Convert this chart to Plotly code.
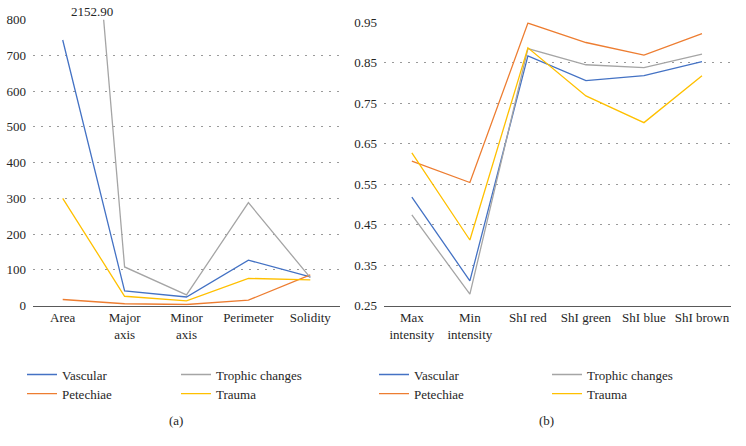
import plotly.graph_objects as go

# ---- data ----
cats_a = ["Area", "Major<br>axis", "Minor<br>axis", "Perimeter", "Solidity"]
vascular_a = [743, 41, 24, 127, 80]
petechiae_a = [17, 5, 3, 15, 86]
trophic_a = [2152.90, 108, 30, 288, 78]
trauma_a = [300, 26, 13, 76, 72]

cats_b = ["Max<br>intensity", "Min<br>intensity", "ShI red", "ShI green", "ShI blue", "ShI brown"]
vascular_b = [0.518, 0.311, 0.867, 0.806, 0.818, 0.853]
petechiae_b = [0.607, 0.554, 0.948, 0.900, 0.869, 0.922]
trophic_b = [0.474, 0.278, 0.885, 0.845, 0.838, 0.871]
trauma_b = [0.627, 0.412, 0.887, 0.768, 0.702, 0.818]

yticks_a = [0, 100, 200, 300, 400, 500, 600, 700, 800]
yticks_b = [0.25, 0.35, 0.45, 0.55, 0.65, 0.75, 0.85, 0.95]

names = ["Vascular", "Petechiae", "Trophic changes", "Trauma"]
colors = ["#4472C4", "#ED7D31", "#A5A5A5", "#FFC000"]

FONT = "Liberation Serif, Times New Roman, DejaVu Serif, serif"
TXT = "#262626"

W, H = 746, 446
Y_OFF, Y_SCALE = 8.1, 0.962  # calibration of vertical placement


def px_x(p):
    return p / W


def px_y(p):
    return 1 - (p - Y_OFF) / (H * Y_SCALE)


fig = go.Figure()

series_a = [vascular_a, petechiae_a, trophic_a, trauma_a]
series_b = [vascular_b, petechiae_b, trophic_b, trauma_b]

# legend placement (pixel text-left x, row centre y) per series
leg_pos_a = [(63, 374), (63, 393), (217, 374), (217, 393)]
leg_pos_b = [(415, 374), (415, 393), (588, 374), (588, 393)]

legfont = dict(family=FONT, size=13, color=TXT)
legends = {}
k = 0
for i, (n, c) in enumerate(zip(names, colors)):
    k += 1
    lname = "legend" if k == 1 else f"legend{k}"
    fig.add_trace(go.Scatter(
        x=list(range(len(cats_a))), y=series_a[i], name=n, mode="lines",
        line=dict(color=c, width=1.3), xaxis="x", yaxis="y",
        legend=lname, showlegend=True))
    tx, ty = leg_pos_a[i]
    legends[lname] = dict(x=px_x(tx - 41), y=px_y(ty), xanchor="left", yanchor="middle",
                          font=legfont, bgcolor="rgba(0,0,0,0)", borderwidth=0)
for i, (n, c) in enumerate(zip(names, colors)):
    k += 1
    lname = f"legend{k}"
    fig.add_trace(go.Scatter(
        x=list(range(len(cats_b))), y=series_b[i], name=n, mode="lines",
        line=dict(color=c, width=1.3), xaxis="x2", yaxis="y2",
        legend=lname, showlegend=True))
    tx, ty = leg_pos_b[i]
    legends[lname] = dict(x=px_x(tx - 41), y=px_y(ty), xanchor="left", yanchor="middle",
                          font=legfont, bgcolor="rgba(0,0,0,0)", borderwidth=0)

common_y = dict(showgrid=True, gridcolor="#9a9a9a", griddash="2px,6px", gridwidth=1,
                zeroline=False, showline=False, ticks="", ticklabelstandoff=6,
                tickfont=dict(family=FONT, size=13, color=TXT))
common_x = dict(showgrid=False, zeroline=False, showline=True, linecolor="#595959",
                linewidth=1.3, ticks="", tickfont=dict(family=FONT, size=13, color=TXT))

fig.update_layout(
    width=W, height=H,
    margin=dict(l=0, r=0, t=0, b=0),
    paper_bgcolor="white", plot_bgcolor="white",
    font=dict(family=FONT, color=TXT),
    xaxis=dict(domain=[px_x(33), px_x(340)], range=[-0.48, 4.48],
               tickmode="array", tickvals=list(range(len(cats_a))), ticktext=cats_a,
               anchor="y", **common_x),
    yaxis=dict(domain=[px_y(305.3), px_y(20.7)], range=[0, 800],
               tickmode="array", tickvals=yticks_a, ticktext=[str(v) for v in yticks_a],
               anchor="x", **common_y),
    xaxis2=dict(domain=[px_x(384), px_x(731)], range=[-0.48, 5.5],
                tickmode="array", tickvals=list(range(len(cats_b))), ticktext=cats_b,
                anchor="y2", **common_x),
    yaxis2=dict(domain=[px_y(305.3), px_y(23.3)], range=[0.25, 0.95],
                tickmode="array", tickvals=yticks_b, ticktext=[f"{v:.2f}" for v in yticks_b],
                anchor="x2", **common_y),
    showlegend=True,
    **legends,
)

fig.add_annotation(x=0.47, y=800, xref="x", yref="y", text="2152.90", showarrow=False,
                   yanchor="middle", yshift=8, font=dict(family=FONT, size=13, color=TXT))
fig.add_annotation(x=px_x(176), y=px_y(420), xref="paper", yref="paper", text="(a)",
                   showarrow=False, xanchor="center", yanchor="middle",
                   font=dict(family=FONT, size=13, color=TXT))
fig.add_annotation(x=px_x(546), y=px_y(420), xref="paper", yref="paper", text="(b)",
                   showarrow=False, xanchor="center", yanchor="middle",
                   font=dict(family=FONT, size=13, color=TXT))

fig.write_html("out.html", config={"displayModeBar": False},
               post_script="document.body.style.margin='0';")
